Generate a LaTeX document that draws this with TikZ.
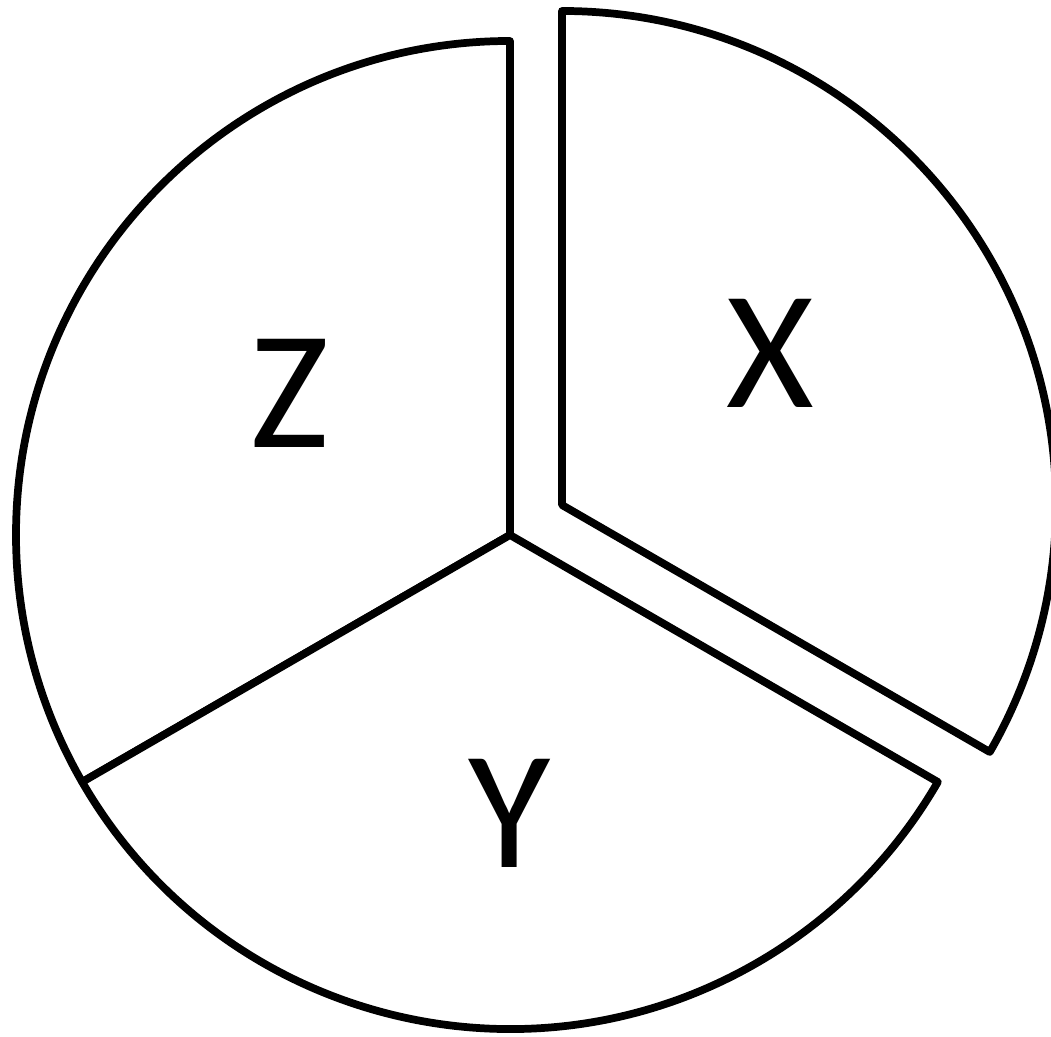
\documentclass[tikz,border=0pt]{standalone}
\usepackage{fontspec}
\setmainfont{Carlito}
\usetikzlibrary{positioning, calc}

\begin{document}
\begin{tikzpicture}[
    sector/.style={draw, line width=2.2pt, line join=round, fill=white},
    label/.style={font=\fontsize{48}{50}\selectfont},
  ]
  \useasboundingbox (0,0) rectangle (10.51,10.37);
  \def\r{4.94}
  % Centres (X is pulled out)
  \coordinate (c) at (5.10,5.02);
  \coordinate (cx) at ($(c)+(30:0.60)$);
  % Sectors
  \draw[sector] (c) -- ++(90:\r) arc (90:210:\r) -- cycle;
  \draw[sector] (c) -- ++(210:\r) arc (210:330:\r) -- cycle;
  \draw[sector] (cx) -- ++(90:\r) arc (90:-30:\r) -- cycle;
  % Labels
  \node[label] (z) at (2.90,6.44) {Z};
  \node[label] (x) at (7.70,6.84) {X};
  \node[label] (y) at (5.10,2.24) {Y};
\end{tikzpicture}
\end{document}
